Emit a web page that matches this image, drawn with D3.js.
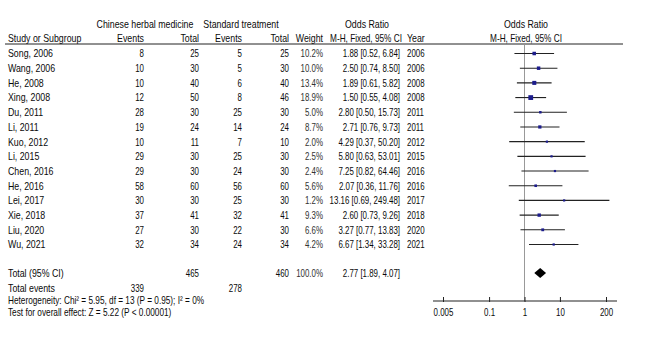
<!DOCTYPE html>
<html>
<head>
<meta charset="utf-8">
<script src="https://cdn.jsdelivr.net/npm/d3@7"></script>
<style>
  body { margin: 0; background: #fff; }
  text { font-family: "Liberation Sans", Arial, sans-serif; font-size: 11px; fill: #0a0a0a; }
</style>
</head>
<body>
<div id="wrapper"></div>
<script>
const studies = ["Song, 2006", "Wang, 2006", "He, 2008", "Xing, 2008", "Du, 2011", "Li, 2011", "Kuo, 2012",
  "Li, 2015", "Chen, 2016", "He, 2016", "Lei, 2017", "Xie, 2018", "Liu, 2020", "Wu, 2021"]
const chmEvents = [8, 10, 10, 12, 28, 19, 10, 29, 29, 58, 30, 37, 27, 32]
const chmTotal = [25, 30, 40, 50, 30, 24, 11, 30, 30, 60, 30, 41, 30, 34]
const stdEvents = [5, 5, 6, 8, 25, 14, 7, 25, 24, 56, 25, 32, 22, 24]
const stdTotal = [25, 30, 40, 46, 30, 24, 10, 30, 30, 60, 30, 41, 30, 34]
const weights = [10.2, 10.0, 13.4, 18.9, 5.0, 8.7, 2.0, 2.5, 2.4, 5.6, 1.2, 9.3, 6.6, 4.2]
const oddsRatio = [1.88, 2.50, 1.89, 1.50, 2.80, 2.71, 4.29, 5.80, 7.25, 2.07, 13.16, 2.60, 3.27, 6.67]
const ciLower = [0.52, 0.74, 0.61, 0.55, 0.50, 0.76, 0.37, 0.63, 0.82, 0.36, 0.69, 0.73, 0.77, 1.34]
const ciUpper = [6.84, 8.50, 5.82, 4.08, 15.73, 9.73, 50.20, 53.01, 64.46, 11.76, 249.48, 9.26, 13.83, 33.28]
const years = [2006, 2006, 2008, 2008, 2011, 2011, 2012, 2015, 2016, 2016, 2017, 2018, 2020, 2021]

const pooled = { or: 2.77, lower: 1.89, upper: 4.07 }
const totals = { chmEvents: 339, chmTotal: 465, stdEvents: 278, stdTotal: 460, weight: "100.0%" }
const tickValues = [0.005, 0.1, 1, 10, 200]
const tickLabels = ["0.005", "0.1", "1", "10", "200"]
const heterogeneity = "Heterogeneity: Chi\u00b2 = 5.95, df = 13 (P = 0.95); I\u00b2 = 0%"
const overallEffect = "Test for overall effect: Z = 5.22 (P < 0.00001)"

const width = 670
const height = 351
// the reference face is narrow, and its digits narrower still
const sqWord = 0.8
const sqNum = 0.72
const sqNote = 0.75

// column anchors
const col = {
  study: 8, chmEv: 144, chmTot: 199, stdEv: 242, stdTot: 289,
  weight: 323, ci: 400, year: 407, forest: 526
}

const svg = d3.select("#wrapper").append("svg")
  .attr("width", width)
  .attr("height", height)

// helper for narrow text
function txt(x, y, s, anchor = "start", sq = sqWord) {
  return svg.append("text")
    .attr("transform", `translate(${x},${y}) scale(${sq},1)`)
    .attr("text-anchor", anchor)
    .attr("dy", "0.35em")
    .text(s)
}

// row positions
const yScale = d3.scalePoint()
  .domain(d3.range(studies.length))
  .range([53.5, 244.5])

const xScale = d3.scaleLog()
  .domain([0.005, 200])
  .range([443, 606])

const yTotal = 273
const yEvents = 288
const yHet = 300
const yTest = 312
const yAxis = 301

// headers
txt(145, 24, "Chinese herbal medicine", "middle")
txt(241, 24, "Standard treatment", "middle")
txt(367, 24, "Odds Ratio", "middle")
txt(col.forest, 24, "Odds Ratio", "middle")
txt(col.study, 38.5, "Study or Subgroup")
txt(col.chmEv, 38.5, "Events", "end")
txt(col.chmTot, 38.5, "Total", "end")
txt(col.stdEv, 38.5, "Events", "end")
txt(col.stdTot, 38.5, "Total", "end")
txt(col.weight, 38.5, "Weight", "end")
txt(col.ci + 2, 38.5, "M-H, Fixed, 95% CI", "end", sqNote)
txt(col.year, 38.5, "Year")
txt(col.forest, 38.5, "M-H, Fixed, 95% CI", "middle", sqNote)

svg.append("line")
  .attr("x1", 5).attr("x2", 623)
  .attr("y1", 44).attr("y2", 44)
  .attr("stroke", "#222").attr("stroke-width", 1)

// line of no effect
svg.append("line")
  .attr("x1", xScale(1)).attr("x2", xScale(1))
  .attr("y1", 45).attr("y2", yAxis)
  .attr("stroke", "#999").attr("stroke-width", 1)

// study rows
const fmt2 = d3.format(".2f")
studies.forEach((s, i) => {
  const y = yScale(i)
  txt(col.study, y, s)
  txt(col.chmEv, y, chmEvents[i], "end", sqNum)
  txt(col.chmTot, y, chmTotal[i], "end", sqNum)
  txt(col.stdEv, y, stdEvents[i], "end", sqNum)
  txt(col.stdTot, y, stdTotal[i], "end", sqNum)
  txt(col.weight, y, d3.format(".1f")(weights[i]) + "%", "end", sqNum).style("fill", "#333")
  txt(col.ci, y, `${fmt2(oddsRatio[i])} [${fmt2(ciLower[i])}, ${fmt2(ciUpper[i])}]`, "end", sqNum)
  txt(col.year, y, years[i], "start", sqNum)
})

// confidence intervals
svg.selectAll("line.ci")
  .data(studies)
  .enter()
  .append("line")
    .attr("class", "ci")
    .attr("x1", (d, i) => xScale(ciLower[i]))
    .attr("x2", (d, i) => xScale(ciUpper[i]))
    .attr("y1", (d, i) => yScale(i))
    .attr("y2", (d, i) => yScale(i))
    .attr("stroke", "#222")
    .attr("stroke-width", 1.1)

// weight squares
const side = w => Math.max(2.2, 1.1 * Math.sqrt(w))
svg.selectAll("rect.pt")
  .data(studies)
  .enter()
  .append("rect")
    .attr("class", "pt")
    .attr("x", (d, i) => xScale(oddsRatio[i]) - side(weights[i]) / 2)
    .attr("y", (d, i) => yScale(i) - side(weights[i]) / 2)
    .attr("width", (d, i) => side(weights[i]))
    .attr("height", (d, i) => side(weights[i]))
    .attr("fill", "#1c1c8c")

// totals
txt(col.study, yTotal, "Total (95% CI)")
txt(col.chmTot, yTotal, totals.chmTotal, "end", sqNum)
txt(col.stdTot, yTotal, totals.stdTotal, "end", sqNum)
txt(col.weight, yTotal, totals.weight, "end", sqNum).style("fill", "#333")
txt(col.ci, yTotal, `${fmt2(pooled.or)} [${fmt2(pooled.lower)}, ${fmt2(pooled.upper)}]`, "end", sqNum)
txt(col.study, yEvents, "Total events")
txt(col.chmEv, yEvents, totals.chmEvents, "end", sqNum)
txt(col.stdEv, yEvents, totals.stdEvents, "end", sqNum)
txt(col.study, yHet, heterogeneity, "start", sqNote)
txt(col.study, yTest, overallEffect, "start", sqNote)

// pooled diamond
const dh = 5
svg.append("path")
  .attr("d", `M${xScale(pooled.lower)},${yTotal} L${xScale(pooled.or)},${yTotal - dh} L${xScale(pooled.upper)},${yTotal} L${xScale(pooled.or)},${yTotal + dh} Z`)
  .attr("fill", "#000")

// axis
const axis = d3.axisBottom(xScale)
  .tickValues(tickValues)
  .tickFormat((d, i) => tickLabels[i])
  .tickSizeInner(-4)
  .tickSizeOuter(0)
  .tickPadding(7)

const axisG = svg.append("g")
  .attr("transform", `translate(0,${yAxis})`)
  .call(axis)
axisG.select(".domain").remove()
axisG.selectAll(".tick line").attr("stroke", "#222").attr("y2", -4).attr("y1", 1)
axisG.selectAll(".tick text")
  .attr("transform", `scale(${sqNum},1)`)
  .style("font-family", "Liberation Sans, Arial, sans-serif")
  .style("font-size", "11px")
  .style("fill", "#0a0a0a")
axisG.append("line")
  .attr("x1", xScale.range()[0] - 10)
  .attr("x2", xScale.range()[1] + 11)
  .attr("stroke", "#222")
  .attr("stroke-width", 1.2)
</script>
</body>
</html>
